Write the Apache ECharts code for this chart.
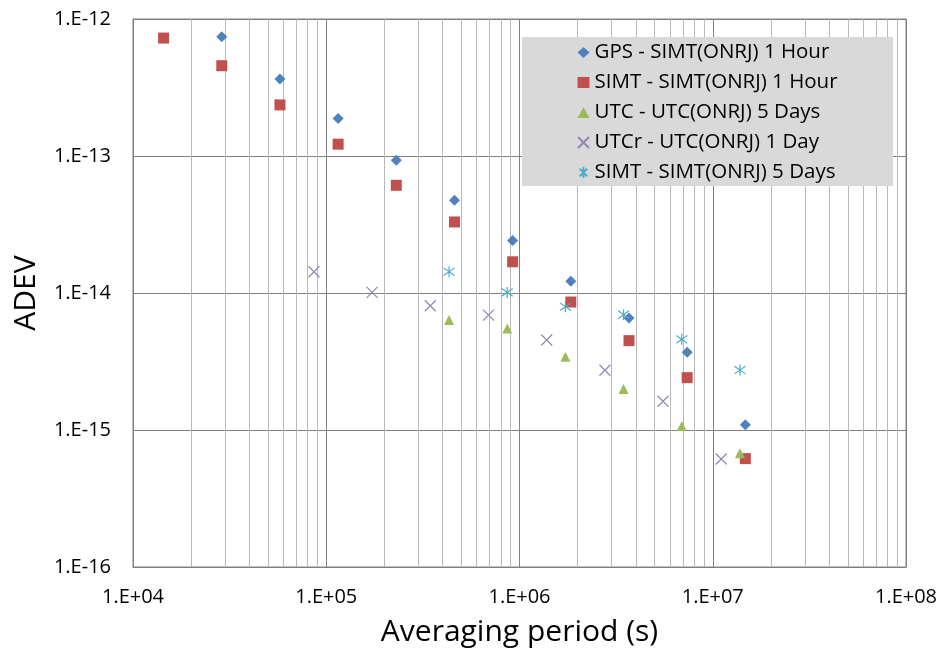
<!DOCTYPE html>
<html>
<head>
<meta charset="utf-8">
<script src="https://cdn.jsdelivr.net/npm/echarts@6/dist/echarts.min.js"></script>
<style>
html,body{margin:0;padding:0;background:#fff;}
#chart{width:943px;height:655px;}
</style>
</head>
<body>
<div id="chart"></div>
<script>
// ---- data (averaging period in s, ADEV) ----
var seriesNames = ['GPS - SIMT(ONRJ) 1 Hour', 'SIMT - SIMT(ONRJ) 1 Hour', 'UTC - UTC(ONRJ) 5 Days', 'UTCr - UTC(ONRJ) 1 Day', 'SIMT - SIMT(ONRJ) 5 Days'];
var gpsTau   = [28800, 57600, 115200, 230400, 460800, 921600, 1843200, 3686400, 7372800, 14745600];
var gpsAdev  = [7.43e-13, 3.65e-13, 1.88e-13, 9.3e-14, 4.75e-14, 2.42e-14, 1.22e-14, 6.57e-15, 3.69e-15, 1.09e-15];
var simtTau  = [14400, 28800, 57600, 115200, 230400, 460800, 921600, 1843200, 3686400, 7372800, 14745600];
var simtAdev = [7.26e-13, 4.56e-13, 2.36e-13, 1.22e-13, 6.11e-14, 3.30e-14, 1.69e-14, 8.59e-15, 4.49e-15, 2.41e-15, 6.18e-16];
var utcTau   = [432000, 864000, 1728000, 3456000, 6912000, 13824000];
var utcAdev  = [6.35e-15, 5.50e-15, 3.43e-15, 1.99e-15, 1.07e-15, 6.76e-16];
var utcrTau  = [86400, 172800, 345600, 691200, 1382400, 2764800, 5529600, 11059200];
var utcrAdev = [1.43e-14, 1.01e-14, 8.07e-15, 6.90e-15, 4.54e-15, 2.73e-15, 1.62e-15, 6.14e-16];
var simt5Tau  = [432000, 864000, 1728000, 3456000, 6912000, 13824000];
var simt5Adev = [1.43e-14, 1.01e-14, 7.94e-15, 6.95e-15, 4.59e-15, 2.74e-15];

// axis structure
var xDecades = [1e4, 1e5, 1e6, 1e7];
var yDecades = [1e-16, 1e-15, 1e-14, 1e-13];
var minorMultipliers = [2, 3, 4, 5, 6, 7, 8, 9];

function pairs(xs, ys) { return xs.map(function (x, i) { return [x, ys[i]]; }); }
function sciLabel(v) {
  var e = Math.round(Math.log10(v));
  var a = Math.abs(e);
  return '1.E' + (e < 0 ? '-' : '+') + (a < 10 ? '0' : '') + a;
}
var minorLines = [];
xDecades.forEach(function (d) { minorMultipliers.forEach(function (m) { minorLines.push({ xAxis: m * d }); }); });
yDecades.forEach(function (d) { minorMultipliers.forEach(function (m) { minorLines.push({ yAxis: m * d }); }); });

var FONT = 'Open Sans';
var X_PATH = 'path://M0,0L10,10M10,0L0,10';
var STAR_PATH = 'path://M5,0L5,10M1.5,1.5L8.5,8.5M8.5,1.5L1.5,8.5';

var chart = echarts.init(document.getElementById('chart'), null, { renderer: 'canvas' });
chart.setOption({
  animation: false,
  backgroundColor: '#ffffff',
  textStyle: { fontFamily: FONT },
  grid: { left: 133, right: 37, top: 19, bottom: 88, show: true, borderColor: '#808080', borderWidth: 1 },
  graphic: {
    elements: [{
      type: 'rect', left: 522, top: 37, z: 30, silent: true,
      shape: { width: 371, height: 149 },
      style: { fill: '#d9d9d9' }
    }]
  },
  legend: {
    orient: 'vertical', left: 577, top: 42, padding: 0, z: 40,
    itemWidth: 12, itemHeight: 11, itemGap: 9,
    textStyle: { fontFamily: FONT, fontSize: 20.5, color: '#000', lineHeight: 20 },
    data: seriesNames
  },
  xAxis: {
    type: 'log', logBase: 10, min: 1e4, max: 1e8, splitNumber: 4,
    name: 'Averaging period (s)', nameLocation: 'middle', nameGap: 50,
    nameTextStyle: { fontFamily: FONT, fontSize: 30, color: '#000' },
    axisLine: { show: true, lineStyle: { color: '#808080' } },
    axisTick: { show: false },
    axisLabel: { formatter: sciLabel, fontFamily: FONT, fontSize: 20, color: '#000', margin: 20 },
    splitLine: { show: true, lineStyle: { color: '#808080', width: 1 } },
    minorTick: { show: false }, minorSplitLine: { show: false }
  },
  yAxis: {
    type: 'log', logBase: 10, min: 1e-16, max: 1e-12, splitNumber: 4,
    name: 'ADEV', nameLocation: 'middle', nameGap: 92, nameRotate: 90,
    nameTextStyle: { fontFamily: FONT, fontSize: 30, color: '#000' },
    axisLine: { show: true, lineStyle: { color: '#808080' } },
    axisTick: { show: false },
    axisLabel: { formatter: sciLabel, fontFamily: FONT, fontSize: 20, color: '#000', margin: 22 },
    splitLine: { show: true, lineStyle: { color: '#808080', width: 1 } },
    minorTick: { show: false }, minorSplitLine: { show: false }
  },
  series: [
    {
      name: '__minor', type: 'scatter', data: [], z: 1, silent: true,
      markLine: { z: 1, silent: true, symbol: 'none', animation: false, label: { show: false },
        lineStyle: { color: '#b8b8b8', width: 1, type: 'solid' }, emphasis: { disabled: true },
        data: minorLines }
    },
    { name: seriesNames[0], type: 'scatter', symbol: 'diamond', symbolSize: 11, z: 6,
      itemStyle: { color: '#4f81bd', opacity: 1 }, data: pairs(gpsTau, gpsAdev) },
    { name: seriesNames[1], type: 'scatter', symbol: 'rect', symbolSize: 11, z: 6,
      itemStyle: { color: '#c0504d', opacity: 1 }, data: pairs(simtTau, simtAdev) },
    { name: seriesNames[2], type: 'scatter', symbol: 'triangle', symbolSize: 10, z: 6,
      itemStyle: { color: '#9bbb59', opacity: 1 }, data: pairs(utcTau, utcAdev) },
    { name: seriesNames[3], type: 'scatter', symbol: X_PATH, symbolSize: 11, z: 6,
      itemStyle: { color: 'rgba(0,0,0,0)', borderColor: '#9486b3', borderWidth: 1.2, opacity: 1 }, data: pairs(utcrTau, utcrAdev) },
    { name: seriesNames[4], type: 'scatter', symbol: STAR_PATH, symbolSize: 11, z: 6,
      itemStyle: { color: 'rgba(0,0,0,0)', borderColor: '#4bacc6', borderWidth: 1.2, opacity: 1 }, data: pairs(simt5Tau, simt5Adev) }
  ]
});
</script>
</body>
</html>
